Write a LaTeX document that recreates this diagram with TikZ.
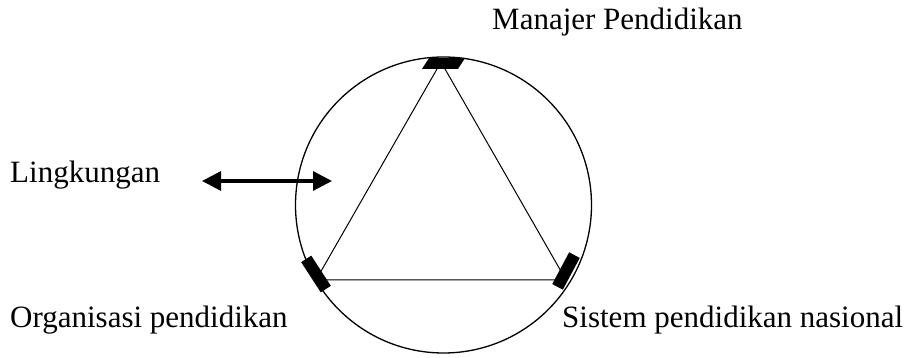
\documentclass[tikz,border=0pt]{standalone}
\usepackage{fontspec}
\setmainfont{Liberation Serif}
\usetikzlibrary{positioning,arrows.meta}

\begin{document}
\begin{tikzpicture}[
  x=1pt, y=1pt,
  font=\fontsize{31}{36}\selectfont,
  lbl/.style={anchor=west,inner sep=0pt},
  seal/.style={fill=black,inner sep=0pt,minimum width=36pt,minimum height=11pt},
  side/.style={line width=1pt},
  arr/.style={{Triangle[length=19pt,width=19pt]}-{Triangle[length=19pt,width=19pt]},line width=3.2pt}]

  \useasboundingbox (0,0) rectangle (918,358);

  % ring
  \node[circle,draw,line width=1.3pt,minimum size=296pt,inner sep=0pt] (ring) at (443.5,153) {};

  % corners of the triangle
  \coordinate (mgr) at (441,296);
  \coordinate (org) at (316,78);
  \coordinate (sys) at (566,78);

  \draw[side] (mgr) -- (org) -- (sys) -- cycle;

  \node[seal,xslant=0.65] (mgr-seal) at (443.5,294.5) {};
  \node[seal,rotate=-57,minimum height=12pt] (org-seal) at (316,84) {};
  \node[seal,rotate=62,minimum height=12pt] (sys-seal) at (566,87) {};

  % labels
  \node[lbl] (manajer) at (492,336) {Manajer Pendidikan};
  \node[lbl] (lingk) at (10,183) {Lingkungan};
  \node[lbl] (organ) at (10,38) {Organisasi pendidikan};
  \node[lbl] (sistem) at (562,38) {Sistem pendidikan nasional};

  \coordinate (env-out) at (202,177);
  \coordinate (env-in) at (332,177);
  \draw[arr] (env-out) -- (env-in);
\end{tikzpicture}
\end{document}
